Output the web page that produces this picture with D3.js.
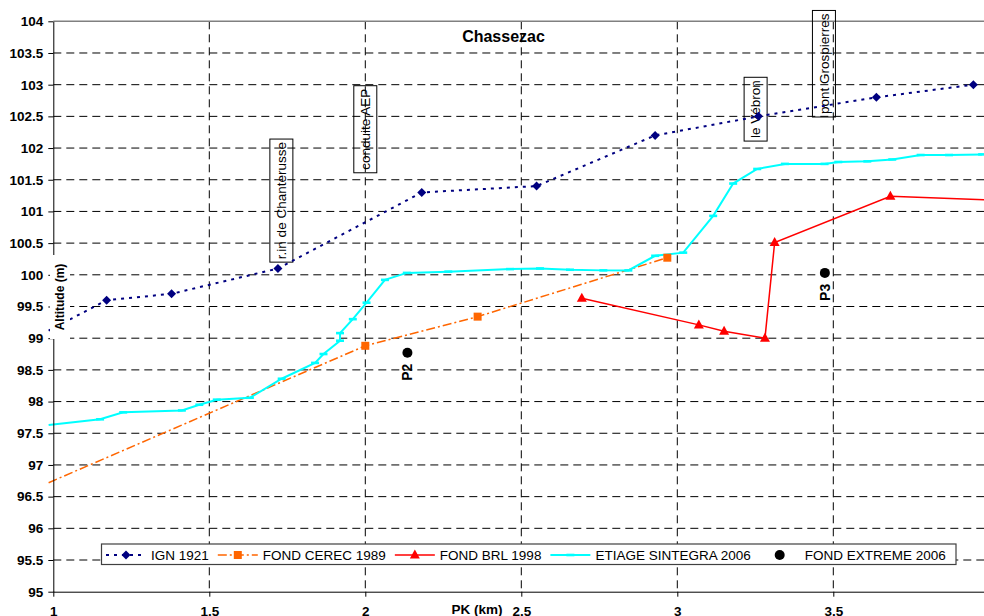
<!DOCTYPE html>
<html><head><meta charset="utf-8">
<script src="https://cdn.jsdelivr.net/npm/d3@7"></script>
<style>html,body{margin:0;padding:0;background:#fff;overflow:hidden}svg{display:block;font-family:"Liberation Sans",Arial,sans-serif}</style>
</head><body><svg id="c" width="984" height="616"></svg>
<script>
// ---------------- DATA ----------------
const chartTitle = "Chassezac";
const xTitle = "PK (km)";
const yTitle = "Altitude (m)";
const seriesNames = ["IGN 1921","FOND CEREC 1989","FOND BRL 1998","ETIAGE SINTEGRA 2006","FOND EXTREME 2006"];
const xTicks = [1,1.5,2,2.5,3,3.5];
const yTicks = [95,95.5,96,96.5,97,97.5,98,98.5,99,99.5,100,100.5,101,101.5,102,102.5,103,103.5,104];

const ignKm  = [0.985,1.171,1.379,1.720,2.181,2.549,2.929,3.260,3.638,3.949];
const ignAlt = [99.12,99.60,99.70,100.10,101.30,101.40,102.20,102.50,102.80,103.00];

const cerecKm  = [0.985,2.000,2.360,2.968];
const cerecAlt = [96.72,98.88,99.34,100.27];

const brlKm  = [2.694,3.069,3.150,3.281,3.312,3.683,4.000];
const brlAlt = [99.63,99.21,99.11,99.00,100.51,101.24,101.18];

const etiageKm  = [0.985,1.150,1.224,1.412,1.468,1.524,1.630,1.732,1.839,1.866,1.919,1.919,1.960,2.004,2.063,2.133,2.266,2.464,2.560,2.656,2.763,2.843,2.929,3.019,3.115,3.179,3.256,3.345,3.472,3.516,3.609,3.689,3.780,3.871,3.977];
const etiageAlt = [97.63,97.72,97.83,97.86,97.95,98.03,98.06,98.36,98.61,98.75,98.96,99.08,99.30,99.56,99.92,100.03,100.05,100.09,100.10,100.08,100.07,100.07,100.30,100.35,100.93,101.44,101.67,101.75,101.75,101.78,101.79,101.82,101.89,101.89,101.90];

const extremeKm  = [2.135,3.473];
const extremeAlt = [98.77,100.03];
const extremeLabels = ["P2","P3"];

const noteLabels = ["r.in de Chanterusse","conduite AEP","le Vébron","pont Grospierres"];
const noteKm  = [1.731,2.000,3.251,3.470];
const noteAlt = [100.20,101.61,102.11,102.49];

// ---------------- STYLES ----------------
const styles = {
  "IGN 1921": {color:"#000080", width:2, dash:"3,5", marker:"diamond"},
  "FOND CEREC 1989": {color:"#FF6600", width:1.5, dash:"9,3,2,3", marker:"square"},
  "FOND BRL 1998": {color:"#FF0000", width:1.5, dash:null, marker:"triangle"},
  "ETIAGE SINTEGRA 2006": {color:"#00FFFF", width:2, dash:null, marker:"bar"},
  "FOND EXTREME 2006": {color:"#000000", width:0, dash:null, marker:"circle"}
};

const svg = d3.select("#c");
const x = d3.scaleLinear().domain([1,4]).range([53.3, 989.3]);
const y = d3.scaleLinear().domain([95,104]).range([591.7, 21.3]);
const xL = x.range()[0], xR = 984, yT = y.range()[1], yB = y.range()[0];

// grid
const grid = svg.append("g").attr("stroke","#000").attr("stroke-width",1).attr("stroke-dasharray","8,5");
grid.selectAll("line.h").data(yTicks.filter(v=>v>95 && v<104)).join("line")
  .attr("x1",xL).attr("x2",xR).attr("y1",d=>y(d)).attr("y2",d=>y(d));
grid.selectAll("line.v").data(xTicks.filter(v=>v>1)).join("line")
  .attr("y1",yT).attr("y2",yB).attr("x1",d=>x(d)).attr("x2",d=>x(d));
// top border
svg.append("line").attr("x1",xL).attr("x2",xR).attr("y1",yT).attr("y2",yT).attr("stroke","#808080").attr("stroke-width",1.5);

// annotations (boxes with vertical text)
const notes = svg.append("g");
noteLabels.forEach((t,i)=>{
  const cx = x(noteKm[i]), by = y(noteAlt[i]);
  const g = notes.append("g");
  const txt = g.append("text").attr("transform",`translate(${cx},${by-3}) rotate(-90)`)
    .attr("dy","0.35em").attr("font-size","13.5px").attr("fill","#000").text(t);
  const len = txt.node().getComputedTextLength();
  g.insert("rect","text").attr("x",cx-11.5).attr("y",by-len-6).attr("width",23).attr("height",len+6)
    .attr("fill","none").attr("stroke","#000").attr("stroke-width",1);
});

// markers
function markerPath(type){
  if(type==="diamond") return "M0,-4.5L4.5,0L0,4.5L-4.5,0Z";
  if(type==="square") return "M-4,-4L4,-4L4,4L-4,4Z";
  if(type==="triangle") return "M0,-5.5L5,3.5L-5,3.5Z";
  if(type==="bar") return "M-4,-1.3L4,-1.3L4,1.3L-4,1.3Z";
  if(type==="circle") return "M5,0A5,5 0 1,1 -5,0A5,5 0 1,1 5,0Z";
}
const seriesData = [
  [ignKm, ignAlt], [cerecKm, cerecAlt], [brlKm, brlAlt], [etiageKm, etiageAlt], [extremeKm, extremeAlt]
];
const line = d3.line().x(d=>x(d[0])).y(d=>y(d[1]));
const order = [0,1,3,2,4];
order.forEach(i=>{
  const name = seriesNames[i], st = styles[name];
  const pts = seriesData[i][0].map((k,j)=>[k, seriesData[i][1][j]]);
  if(st.width>0){
    svg.append("path").datum(pts).attr("d",line).attr("fill","none")
      .attr("stroke",st.color).attr("stroke-width",st.width)
      .attr("stroke-dasharray",st.dash);
  }
});
order.forEach(i=>{
  const name = seriesNames[i], st = styles[name];
  const pts = seriesData[i][0].map((k,j)=>[k, seriesData[i][1][j]]).filter(p=>p[0]>=1);
  svg.append("g").selectAll("path").data(pts).join("path")
    .attr("transform",d=>`translate(${x(d[0])},${y(d[1])})`)
    .attr("d",markerPath(st.marker)).attr("fill",st.color);
});
// P labels
extremeLabels.forEach((t,i)=>{
  svg.append("text").attr("transform",`translate(${x(extremeKm[i])},${y(extremeAlt[i])+28}) rotate(-90)`)
    .attr("dy","0.35em").attr("font-size","14px").attr("font-weight","bold").text(t);
});

// axes
const yAxis = svg.append("g").attr("transform",`translate(${xL},0)`)
  .call(d3.axisLeft(y).tickValues(yTicks).tickSize(5).tickSizeOuter(0).tickPadding(5).tickFormat(d=>String(+d.toFixed(1))));
const xAxis = svg.append("g").attr("transform",`translate(0,${yB})`)
  .call(d3.axisBottom(x).tickValues(xTicks).tickSize(5).tickSizeOuter(0).tickPadding(10).tickFormat(d=>String(d)));
xAxis.select(".domain").attr("d",`M${xL},0.5H${xR}`);
[yAxis,xAxis].forEach(a=>{
  a.select(".domain").attr("stroke","#000");
  a.selectAll(".tick line").attr("stroke","#000");
  a.selectAll("text").attr("font-size","13.5px").attr("font-weight","bold").attr("fill","#000").attr("font-family","Liberation Sans, Arial, sans-serif");
});

// y title with white background
const yt = svg.append("g").attr("transform","translate(60,297) rotate(-90)");
yt.append("rect").attr("x",-42).attr("y",-10).attr("width",84).attr("height",20).attr("fill","#fff");
yt.append("text").attr("text-anchor","middle").attr("dy","0.35em").attr("font-size","12px").attr("font-weight","bold").text(yTitle);

// x title
svg.append("text").attr("x",477).attr("y",614).attr("text-anchor","middle").attr("font-size","13.5px").attr("font-weight","bold").text(xTitle);

// title
svg.append("text").attr("x",503.5).attr("y",41.5).attr("text-anchor","middle").attr("font-size","16px").attr("font-weight","bold").text(chartTitle);

// legend
const lg = svg.append("g");
lg.append("rect").attr("x",101.5).attr("y",544).attr("width",854.5).attr("height",20.5)
  .attr("fill","#fff").attr("stroke","#404040").attr("stroke-width",1.2);
let lx = 106;
const ly = 555;
seriesNames.forEach(name=>{
  const st = styles[name];
  if(st.width>0){
    lg.append("line").attr("x1",lx).attr("x2",lx+40).attr("y1",ly).attr("y2",ly)
      .attr("stroke",st.color).attr("stroke-width",st.width).attr("stroke-dasharray",st.dash);
  }
  lg.append("path").attr("transform",`translate(${lx+20},${ly})`).attr("d",markerPath(st.marker)).attr("fill",st.color);
  const t = lg.append("text").attr("x",lx+45).attr("y",ly).attr("dy","0.35em").attr("font-size","13.5px").text(name);
  lx = lx + 45 + t.node().getComputedTextLength() + 9;
});
</script></body></html>
